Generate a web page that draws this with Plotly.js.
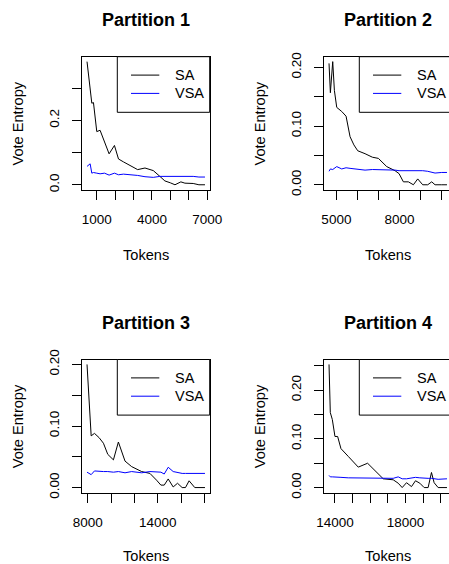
<!DOCTYPE html>
<html>
<head>
<meta charset="utf-8">
<script src="https://cdn.plot.ly/plotly-3.0.1.min.js"></script>
<style>
  html, body { margin: 0; padding: 0; background: #fff; overflow: hidden; width: 449px; height: 564px; }
  #chart { width: 470px; height: 564px; }
</style>
</head>
<body>
<div id="chart"></div>
<script>
// ---------- data ----------
const panelTitles = ["Partition 1", "Partition 2", "Partition 3", "Partition 4"];
const seriesNames = ["SA", "VSA"];
const xAxisTitle = "Tokens";
const yAxisTitle = "Vote Entropy";

const p1Tokens = [470, 640, 730, 820, 1000, 1180, 1420, 1670, 1960, 2180, 2450, 2720, 3000, 3220, 3620, 4070, 4430, 4700, 5000, 5250, 5570, 5790, 6240, 6550, 6880];
const p1SA     = [0.382, 0.298, 0.253, 0.255, 0.165, 0.169, 0.133, 0.096, 0.122, 0.080, 0.071, 0.062, 0.055, 0.047, 0.052, 0.044, 0.026, 0.012, 0.006, 0.0, 0.009, 0.005, 0.004, 0.0, 0.0];
const p1VSA    = [0.057, 0.065, 0.036, 0.038, 0.036, 0.034, 0.036, 0.030, 0.036, 0.031, 0.033, 0.032, 0.029, 0.029, 0.025, 0.023, 0.026, 0.026, 0.027, 0.027, 0.026, 0.026, 0.026, 0.024, 0.024];

const p2Tokens = [4650, 4715, 4826, 4905, 5016, 5253, 5459, 5649, 5830, 6013, 6361, 6709, 6994, 7389, 7785, 7975, 8180, 8418, 8655, 8861, 9098, 9335, 9525, 9684, 10000, 10250];
const p2SA     = [0.207, 0.157, 0.210, 0.161, 0.132, 0.125, 0.117, 0.082, 0.068, 0.058, 0.053, 0.047, 0.045, 0.031, 0.024, 0.019, 0.005, 0.005, 0.0, 0.010, 0.0, 0.0, 0.005, 0.0, 0.0, 0.0];
const p2VSA    = [0.023, 0.027, 0.026, 0.028, 0.031, 0.027, 0.029, 0.028, 0.027, 0.027, 0.025, 0.026, 0.026, 0.025, 0.025, 0.024, 0.024, 0.025, 0.024, 0.024, 0.024, 0.023, 0.022, 0.020, 0.021, 0.021];

const p3Tokens = [7930, 8285, 8570, 8969, 9339, 9709, 10194, 10621, 11191, 11761, 12615, 13328, 13897, 14268, 14553, 14895, 15322, 15692, 16091, 16376, 16689, 17174, 18050];
const p3SA     = [0.200, 0.084, 0.088, 0.081, 0.072, 0.054, 0.045, 0.074, 0.043, 0.034, 0.026, 0.023, 0.012, 0.004, 0.004, 0.014, 0.001, 0.007, 0.0, 0.0, 0.011, 0.0, 0.0];
const p3VSA    = [0.025, 0.021, 0.027, 0.026, 0.026, 0.026, 0.025, 0.026, 0.024, 0.026, 0.024, 0.026, 0.026, 0.025, 0.022, 0.033, 0.026, 0.024, 0.023, 0.023, 0.023, 0.023, 0.023];

const p4Tokens = [13663, 13736, 13849, 14000, 14151, 14340, 14755, 15321, 15849, 16264, 16736, 17302, 17585, 17811, 18057, 18340, 18566, 18811, 19057, 19283, 19472, 19623, 19849, 20351];
const p4SA     = [0.253, 0.154, 0.140, 0.105, 0.105, 0.080, 0.064, 0.042, 0.050, 0.036, 0.018, 0.016, 0.009, 0.0, 0.010, 0.002, 0.014, 0.009, 0.0, 0.0, 0.031, 0.010, 0.0, 0.0];
const p4VSA    = [0.025, 0.022, 0.022, 0.022, 0.021, 0.021, 0.020, 0.020, 0.020, 0.019, 0.019, 0.019, 0.022, 0.018, 0.018, 0.020, 0.021, 0.020, 0.019, 0.019, 0.019, 0.018, 0.017, 0.018];

const p1XTickVals = [1000, 2000, 3000, 4000, 5000, 6000, 7000];
const p1XTickText = ["1000", "", "", "4000", "", "", "7000"];
const p2XTickVals = [5000, 6000, 7000, 8000, 9000, 10000];
const p2XTickText = ["5000", "", "", "8000", "", ""];
const p3XTickVals = [8000, 10000, 12000, 14000, 16000, 18000];
const p3XTickText = ["8000", "", "", "14000", "", ""];
const p4XTickVals = [14000, 15000, 16000, 17000, 18000, 19000, 20000];
const p4XTickText = ["14000", "", "", "", "18000", "", ""];

const p1YTickVals = [0, 0.1, 0.2, 0.3];
const p1YTickText = ["0.0", "", "0.2", ""];
const p2YTickVals = [0, 0.05, 0.10, 0.15, 0.20];
const p2YTickText = ["0.00", "", "0.10", "", "0.20"];
const p3YTickVals = [0, 0.05, 0.10, 0.15, 0.20];
const p3YTickText = ["0.00", "", "0.10", "", "0.20"];
const p4YTickVals = [0, 0.05, 0.10, 0.15, 0.20, 0.25];
const p4YTickText = ["0.00", "", "0.10", "", "0.20", ""];

// ---------- layout helpers ----------
const W = 470, H = 564;
const FONT = "Liberation Sans, Arial, Helvetica, sans-serif";
const panels = [
  {tokens: p1Tokens, sa: p1SA, vsa: p1VSA, xv: p1XTickVals, xt: p1XTickText, yv: p1YTickVals, yt: p1YTickText, left: 82.3, top: 56.7, xtitleGap: 65},
  {tokens: p2Tokens, sa: p2SA, vsa: p2VSA, xv: p2XTickVals, xt: p2XTickText, yv: p2YTickVals, yt: p2YTickText, left: 324.3, top: 56.7, xtitleGap: 65},
  {tokens: p3Tokens, sa: p3SA, vsa: p3VSA, xv: p3XTickVals, xt: p3XTickText, yv: p3YTickVals, yt: p3YTickText, left: 82.3, top: 359.5, xtitleGap: 63},
  {tokens: p4Tokens, sa: p4SA, vsa: p4VSA, xv: p4XTickVals, xt: p4XTickText, yv: p4YTickVals, yt: p4YTickText, left: 324.3, top: 359.5, xtitleGap: 63}
];
const BOXW = 127.4, BOXH = 133.0;
const px = v => v / W;
const py = v => 1 - v / H;
function padRange(arr) {
  const mn = Math.min(...arr), mx = Math.max(...arr);
  const d = (mx - mn) * 0.04;
  return [mn - d, mx + d];
}

const data = [];
const layout = {
  width: W, height: H,
  margin: {l: 0, r: 0, t: 0, b: 0},
  paper_bgcolor: "#fff", plot_bgcolor: "#fff",
  showlegend: false,
  font: {family: FONT, color: "#000"},
  shapes: [], annotations: []
};

panels.forEach((p, i) => {
  const n = i + 1;
  const xa = n === 1 ? "x" : "x" + n;
  const ya = n === 1 ? "y" : "y" + n;
  data.push({x: p.tokens, y: p.sa, type: "scatter", mode: "lines", name: seriesNames[0],
             xaxis: xa, yaxis: ya, line: {color: "#000000", width: 1}, hoverinfo: "skip"});
  data.push({x: p.tokens, y: p.vsa, type: "scatter", mode: "lines", name: seriesNames[1],
             xaxis: xa, yaxis: ya, line: {color: "#0000ff", width: 1}, hoverinfo: "skip"});

  const axCommon = {
    showline: true, mirror: true, linecolor: "#000", linewidth: 1,
    showgrid: false, zeroline: false, ticks: "outside", ticklen: 9, tickwidth: 1, tickcolor: "#000",
    tickmode: "array", tickfont: {family: FONT, size: 13.5, color: "#000"}, fixedrange: true
  };
  layout["xaxis" + (n === 1 ? "" : n)] = Object.assign({}, axCommon, {
    domain: [px(p.left), px(p.left + BOXW)], anchor: ya,
    range: padRange(p.tokens), tickvals: p.xv, ticktext: p.xt, tickangle: 0, ticklabelstandoff: 8
  });
  layout["yaxis" + (n === 1 ? "" : n)] = Object.assign({}, axCommon, {
    domain: [py(p.top + BOXH), py(p.top)], anchor: xa,
    range: padRange(p.sa.concat(p.vsa)), tickvals: p.yv, ticktext: p.yt, tickangle: -90, ticklabelstandoff: 8
  });

  // titles
  layout.annotations.push({xref: "paper", yref: "paper", x: px(p.left + BOXW / 2), y: py(p.top - 37),
    text: "<b>" + panelTitles[i] + "</b>", showarrow: false, xanchor: "center", yanchor: "middle",
    font: {family: FONT, size: 18, color: "#000"}});
  layout.annotations.push({xref: "paper", yref: "paper", x: px(p.left + BOXW / 2), y: py(p.top + BOXH + p.xtitleGap),
    text: xAxisTitle, showarrow: false, xanchor: "center", yanchor: "middle", borderpad: 0,
    font: {family: FONT, size: 14.6, color: "#000"}});
  layout.annotations.push({xref: "paper", yref: "paper", x: px(p.left - 64), y: py(p.top + BOXH / 2),
    text: yAxisTitle, showarrow: false, xanchor: "center", yanchor: "middle", textangle: -90,
    font: {family: FONT, size: 14.6, color: "#000"}});

  // legend (R-style, top right)
  layout.shapes.push({type: "rect", xref: "paper", yref: "paper",
    x0: px(p.left + 35), x1: px(p.left + BOXW), y0: py(p.top + 55.6), y1: py(p.top),
    line: {color: "#000", width: 1}, fillcolor: "#fff", layer: "above"});
  const lineY = [18.4, 36.7];
  const lineCol = ["#000000", "#0000ff"];
  seriesNames.forEach((nm, k) => {
    layout.shapes.push({type: "line", xref: "paper", yref: "paper",
      x0: px(p.left + 48.7), x1: px(p.left + 77), y0: py(p.top + lineY[k]), y1: py(p.top + lineY[k]),
      line: {color: lineCol[k], width: 1}, layer: "above"});
    layout.annotations.push({xref: "paper", yref: "paper", x: px(p.left + 90.5), y: py(p.top + lineY[k]),
      text: nm, showarrow: false, xanchor: "left", yanchor: "middle",
      font: {family: FONT, size: 14.5, color: "#000"}});
  });
});

Plotly.newPlot("chart", data, layout, {staticPlot: true, displayModeBar: false});
</script>
</body>
</html>
